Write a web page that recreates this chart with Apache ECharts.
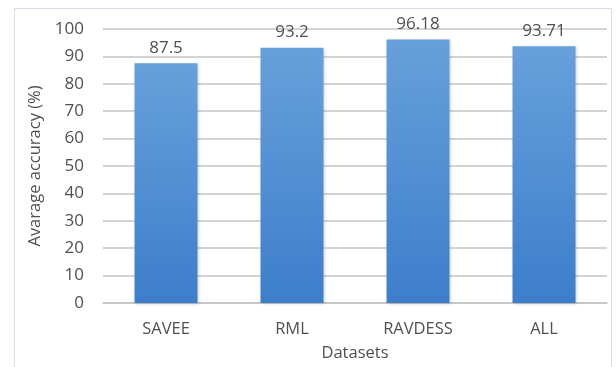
<!DOCTYPE html>
<html>
<head>
<meta charset="utf-8">
<script src="https://cdn.jsdelivr.net/npm/echarts@6/dist/echarts.min.js"></script>
<style>
  html, body { margin: 0; padding: 0; background: #ffffff; }
  #frame { position: absolute; left: 14px; top: 8px; width: 598px; height: 370px;
           border: 1px solid #d6dde6; box-sizing: border-box; }
  #chart { position: absolute; left: 0; top: 0; width: 616px; height: 367px; }
</style>
</head>
<body>
<div id="frame"></div>
<div id="chart"></div>
<script>
const categories = ['SAVEE', 'RML', 'RAVDESS', 'ALL'];
const accuracy = [87.5, 93.2, 96.18, 93.71];
const yTicks = [0, 10, 20, 30, 40, 50, 60, 70, 80, 90, 100];

const textColor = '#505050';
const fontFamily = '"Open Sans", "Noto Sans", sans-serif';

const chart = echarts.init(document.getElementById('chart'), null, { renderer: 'canvas' });
chart.setOption({
  animation: false,
  grid: { left: 103, right: 9, top: 29, bottom: 64 },
  xAxis: {
    type: 'category',
    data: categories,
    name: 'Datasets',
    nameLocation: 'middle',
    nameGap: 42,
    nameTextStyle: { color: textColor, fontSize: 16.5, fontFamily },
    axisLine: { lineStyle: { color: '#c4c4c4', width: 1.5 } },
    axisTick: { show: false },
    axisLabel: { color: textColor, fontSize: 16.5, fontFamily, margin: 18 }
  },
  yAxis: {
    type: 'value',
    min: yTicks[0],
    max: yTicks[yTicks.length - 1],
    interval: 10,
    name: 'Avarage accuracy (%)',
    nameLocation: 'middle',
    nameGap: 54,
    nameTextStyle: { color: textColor, fontSize: 16.5, fontFamily },
    axisLine: { show: false },
    axisTick: { show: false },
    axisLabel: { color: textColor, fontSize: 17, fontFamily, margin: 19 },
    splitLine: { lineStyle: { color: '#c4c4c4', width: 1.5 } }
  },
  series: [{
    type: 'bar',
    data: accuracy,
    barWidth: '50%',
    itemStyle: {
      color: new echarts.graphic.LinearGradient(0, 0, 0, 1, [
        { offset: 0, color: '#67a0db' },
        { offset: 1, color: '#3d7ecb' }
      ]),
      shadowColor: 'rgba(0,0,0,0.18)',
      shadowBlur: 3,
      shadowOffsetX: 1,
      shadowOffsetY: 1
    },
    label: {
      show: true,
      position: 'top',
      distance: 7,
      color: textColor,
      fontSize: 17,
      fontFamily
    }
  }]
});
</script>
</body>
</html>
